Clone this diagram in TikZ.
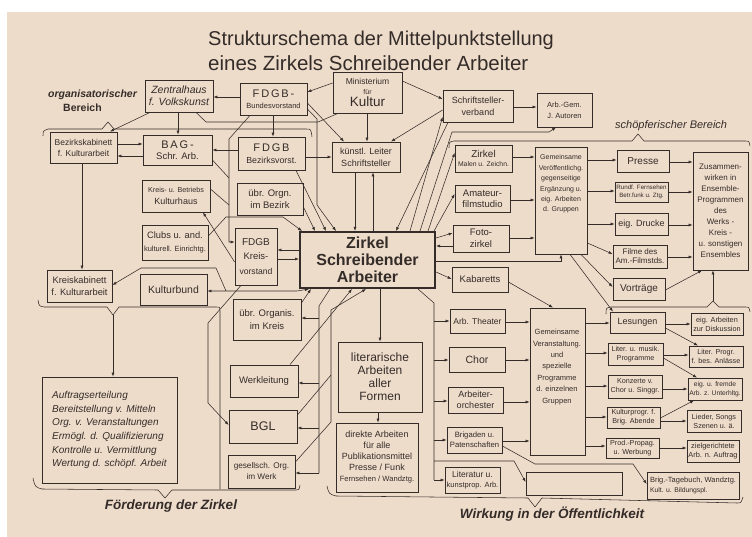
\documentclass[tikz,border=0pt]{standalone}
\usepackage{fontspec}
\setmainfont{Liberation Sans}
\usetikzlibrary{arrows.meta}
\definecolor{paper}{RGB}{238,220,203}
\definecolor{ink}{RGB}{52,44,40}
\newcommand\fs[2]{\fontsize{#1}{#2}\selectfont}
\newcommand\bx[7][]{\node[box,minimum width={(#5-#3)*1pt},minimum height={(#6-#4)*1pt},#1] (#2) at ({(#3+#5)/2},{(#4+#6)/2}) {#7};}
\begin{document}
\begin{tikzpicture}[x=1pt,y=-1pt,
  box/.style={draw=ink,line width=0.8pt,inner sep=1pt,align=center,text=ink,font=\fs{8}{9.5}},
  txt/.style={inner sep=0pt,align=center,text=ink},
  lab/.style={inner sep=0pt,text=ink},
  ln/.style={draw=ink,line width=0.55pt},
  ar/.style={ln,-{Latex[length=4pt,width=3pt]}},
  dar/.style={ln,{Latex[length=4pt,width=3pt]}-{Latex[length=4pt,width=3pt]}}]
\useasboundingbox (0,0) rectangle (752,537);
\fill[white] (0,0) rectangle (752,537);
\fill[paper] (7,12) rectangle (752,537);

% titles and labels
\node[lab,font=\fs{20}{22},anchor=base west] (t1) at (208,46) {Strukturschema der Mittelpunktstellung};
\node[lab,font=\fs{20.5}{22},anchor=base west] (t2) at (208,71) {eines Zirkels Schreibender Arbeiter};
\node[lab,font=\fs{10.5}{12}\bfseries\itshape,anchor=west] (org) at (48,95) {organisatorischer};
\node[lab,font=\fs{10.5}{12}\bfseries,anchor=west] (ber) at (63,108) {Bereich};
\node[lab,font=\fs{11}{12}\itshape,anchor=west] (sch) at (615,126) {schöpferischer Bereich};
\node[lab,font=\fs{13.5}{15}\bfseries\itshape] (foel) at (171,506) {Förderung der Zirkel};
\node[lab,font=\fs{13.5}{15}\bfseries\itshape] (wirl) at (552,514) {Wirkung in der Öffentlichkeit};

% boxes: top
\bx[font=\fs{10.5}{12}\itshape]{zh}{145}{80}{213}{112}{Zentralhaus\\f. Volkskunst}
\bx{fbv}{240}{83}{307}{115}{{\fs{11}{13}F\,D\,G\,B\,-}\\[2pt]{\fs{7.5}{8.5}Bundesvorstand}}
\bx{min}{333}{72}{402}{113}{{\fs{8.5}{10}Ministerium}\\[1pt]{\fs{7}{8}für}\\[1pt]{\fs{13.5}{14}Kultur}}
\bx[font=\fs{9}{12}]{sv}{443}{90}{513}{122}{Schriftsteller-\\verband}
\bx[font=\fs{7.5}{11}]{agj}{537}{93}{592}{127}{Arb.-Gem.\\J. Autoren}
% second row
\bx[font=\fs{8.5}{11}]{bk}{50}{132}{117}{163}{Bezirkskabinett\\f. Kulturarbeit}
\bx{bag}{143}{135}{212}{165}{{\fs{11}{12}B\,A\,G\,-}\\[1pt]{\fs{9.5}{11}Schr. Arb.}}
\bx{fbz}{238}{137}{305}{170}{{\fs{11}{12}F\,D\,G\,B}\\[2pt]{\fs{8.8}{10}Bezirksvorst.}}
\bx[font=\fs{9}{12}]{kl}{332}{142}{400}{172}{künstl. Leiter\\Schriftsteller}
\bx{zmz}{455}{145}{512}{172}{{\fs{10}{11}Zirkel}\\{\fs{6.8}{8}Malen u. Zeichn.}}
\bx{gv}{535}{147}{587}{254}{}
\node[txt,font=\fs{7}{10.4}] (gvt) at (561,184) {Gemeinsame\\Veröffentlichg.\\gegenseitige\\Ergänzung u.\\eig. Arbeiten\\d. Gruppen};
\bx[font=\fs{10}{11}]{pr}{617}{150}{669}{172}{Presse}
\bx[font=\fs{8}{11}]{zus}{693}{152}{748}{270}{Zusammen-\\wirken in\\Ensemble-\\Programmen\\des\\Werks -\\Kreis -\\u. sonstigen\\Ensembles}
\bx[font=\fs{6.2}{8}]{rf}{615}{182}{668}{202}{Rundf. Fernsehen\\Betr.funk u. Ztg.}
\bx[font=\fs{9}{10}]{ed}{615}{213}{668}{235}{eig. Drucke}
\bx[font=\fs{8}{9}]{fi}{613}{245}{667}{268}{Filme des\\Am.-Filmstds.}
\bx[font=\fs{10}{11}]{vo}{613}{278}{665}{300}{Vorträge}
\bx[font=\fs{9.5}{11}]{af}{455}{185}{510}{212}{Amateur-\\filmstudio}
\bx[font=\fs{9.5}{11.5}]{fz}{453}{225}{509}{252}{Foto-\\zirkel}
\bx[font=\fs{9.5}{10}]{kab}{452}{267}{508}{292}{Kabaretts}
% main
\bx[line width=2pt,font=\fs{16}{17}\bfseries]{zsa}{300}{232}{435}{288}{Zirkel\\Schreibender\\Arbeiter}
% left
\bx{kbk}{142}{180}{210}{212}{{\fs{7.2}{9}Kreis- u. Betriebs}\\[2pt]{\fs{9}{10}Kulturhaus}}
\bx{clu}{142}{225}{208}{260}{{\fs{9.3}{11}Clubs u. and.}\\[3pt]{\fs{7.5}{8.5}kulturell. Einrichtg.}}
\bx[font=\fs{9.5}{12}]{uob}{237}{183}{303}{215}{übr. Orgn.\\im Bezirk}
\bx{fkv}{235}{228}{277}{285}{{\fs{10}{11}FDGB}\\[5pt]{\fs{9.5}{10}Kreis-}\\[5pt]{\fs{8.6}{9}vorstand}}
\bx[font=\fs{9.3}{11.5}]{kk}{47}{270}{112}{302}{Kreiskabinett\\f. Kulturarbeit}
\bx[font=\fs{10.5}{11}]{kb}{140}{274}{207}{305}{Kulturbund}
\bx[font=\fs{9.5}{13}]{uok}{233}{299}{301}{340}{übr. Organis.\\im Kreis}
\bx[font=\fs{9.5}{10}]{wl}{230}{365}{298}{397}{Werkleitung}
\bx[font=\fs{12.5}{13}]{bgl}{229}{410}{297}{443}{BGL}
\bx[font=\fs{8.2}{11}]{gow}{228}{455}{295}{488}{gesellsch. Org.\\im Werk}
\bx[font=\fs{12}{13}]{lit}{338}{342}{422}{412}{literarische\\Arbeiten\\aller\\Formen}
\bx[font=\fs{9}{11}]{dir}{336}{423}{418}{492}{direkte Arbeiten\\für alle\\Publikationsmittel\\Presse / Funk\\{\fs{7.6}{11}Fernsehen / Wandztg.}}
\bx[align=left,font=\fs{10}{13.7}\itshape]{foe}{42}{377}{177}{483}{Auftragserteilung\\Bereitstellung v. Mitteln\\Org. v. Veranstaltungen\\Ermögl. d. Qualifizierung\\Kontrolle u. Vermittlung\\Wertung d. schöpf. Arbeit}
% right bottom
\bx[font=\fs{8.5}{9}]{ath}{450}{309}{505}{333}{Arb. Theater}
\bx[font=\fs{10.5}{11}]{chor}{449}{347}{505}{372}{Chor}
\bx[font=\fs{9}{10.5}]{aor}{448}{387}{503}{413}{Arbeiter-\\orchester}
\bx[font=\fs{7.7}{10}]{bri}{447}{427}{502}{453}{Brigaden u.\\Patenschaften}
\bx{lku}{445}{467}{500}{493}{{\fs{8.5}{10}Literatur u.}\\{\fs{7.5}{9}kunstprop. Arb.}}
\bx{gva}{530}{308}{585}{455}{}
\node[txt,font=\fs{7.5}{11.4}] (gvat) at (557,367) {Gemeinsame\\Veranstaltung.\\und\\spezielle\\Programme\\d. einzelnen\\Gruppen};
\bx{leer}{526}{472}{622}{495}{}
\bx[font=\fs{9}{10}]{les}{610}{312}{665}{333}{Lesungen}
\bx[font=\fs{7.2}{9}]{lmp}{608}{343}{663}{365}{Liter. u. musik.\\Programme}
\bx[font=\fs{7.2}{9}]{kon}{608}{375}{662}{398}{Konzerte v.\\Chor u. Singgr.}
\bx[font=\fs{7.2}{9}]{kpb}{607}{407}{660}{428}{Kulturprogr. f.\\Brig. Abende}
\bx[font=\fs{7.2}{9}]{ppw}{606}{438}{659}{458}{Prod.-Propag.\\u. Werbung}
\bx[font=\fs{7.3}{9}]{ead}{691}{313}{743}{335}{eig. Arbeiten\\zur Diskussion}
\bx[font=\fs{7.2}{9}]{lpa}{689}{346}{743}{367}{Liter. Progr.\\f. bes. Anlässe}
\bx[font=\fs{6.7}{9}]{euf}{688}{378}{742}{400}{eig. u. fremde\\Arb. z. Unterhltg.}
\bx[font=\fs{7.2}{9}]{lss}{687}{410}{741}{432}{Lieder, Songs\\Szenen u. ä.}
\bx[font=\fs{7.4}{9}]{zga}{687}{440}{739}{462}{zielgerichtete\\Arb. n. Auftrag}
\bx[align=left]{btb}{647}{472}{739}{499}{{\fs{7.5}{10}Brig.-Tagebuch, Wandztg.}\\[1pt]{\fs{6.8}{8}Kult. u. Bildungspl.}}

% braces
\draw[ln] (43,136) .. controls (43,131) .. (48,129) -- (102,129) -- (108,122) -- (114,129) -- (306,129) .. controls (311,129) .. (312,137);
\draw[ln] (449,148) .. controls (449,142) .. (454,141) -- (632,141) -- (638,134) -- (644,141) -- (745,141) .. controls (749,141) .. (750,146);
\coordinate (vrg) at (713,301);
\draw[ln] (606,314) .. controls (606,308) .. (611,307) -- (707,307) -- (vrg) -- (719,307) -- (745,307) .. controls (749,307) .. (750,312);
\draw[ar] (vrg) -- (zus.south -| vrg);
\coordinate (vkk) at (113,315);
\draw[ln] (38,300) .. controls (39,306) .. (44,307) -- (107,307) -- (vkk) -- (119,307) -- (216,307) .. controls (220,307) .. (220,312) -- (220,489);
\draw[ar] (vkk) -- (foe.north -| vkk);
\draw[ln] (33,478) .. controls (35,487) .. (42,489) -- (158,490) -- (165,498) -- (172,490) -- (296,490) .. controls (299,490) .. (300,485);
\draw[ln] (327,486) .. controls (329,494) .. (336,496) -- (528,498) -- (535,507) -- (542,498) -- (737,503) .. controls (741,503) .. (743,497);

% top connectors
\draw[ar] (fbv.west |- 0,97) -- (zh.east |- 0,97);
\draw[ar] (min.west |- 0,83) -- (fbv.east |- 0,92);
\draw[ar] (min.east |- 0,81) -- (sv.west |- 0,99);
\draw[ar] (min.south -| 367,0) -- (kl.north -| 367,0);
\draw[ar] (fbv.east |- 0,103) -- (kl.north -| 344,0);
\draw[ar] (sv.west |- 0,110) -- (kl.north -| 391,0);
\draw[ar] (sv.east |- 0,107) -- (agj.west |- 0,107);
\draw[ar] (zh.south -| 178,0) -- (bag.north -| 178,0);
\draw[ar] (fbv.south -| 273,0) -- (fbz.north -| 273,0);
\draw[ar] (zh.south -| 150,0) -- (bk.north -| 110,0);
\draw[ln] (zh.south -| 196,0) -- (206,122) -- (318,122) -- (min.south -| 338,0);
\draw[ar] (fbv.south -| 250,0) -- (229,139) -- (229,242) -- (fkv.west |- 0,242);
\draw[ln] (bag.east |- 0,160) -- (229,178);
\draw[ln] (kbk.east |- 0,189) -- (229,205);
\draw[ar] (clu.east |- 0,236) -- (226,217) -- (283,217) -- (zsa.north -| 302,0);
\draw[ar] (fkv.west |- 0,262) -- (kbk.south -| 203,0);
\draw[ar] (uob.east |- 0,207) -- (zsa.north -| 315,0);
\draw[ar] (fbz.south -| 296,0) -- (zsa.north -| 326,0);
\draw[ar] (fbv.east |- 0,109) -- (317,119) -- (317,205) -- (zsa.north -| 336,0);
\draw[ar] (fbz.west |- 0,150) -- (bag.east |- 0,150);
\draw[ar] (fbz.east |- 0,157) -- (kl.west |- 0,157);
\draw[ar] (kl.south -| 355,0) -- (zsa.north -| 355,0);
\draw[ar] (zsa.north -| 373,0) -- (kl.south -| 373,0);
\draw[ar] (bk.east |- 0,144) -- (bag.west |- 0,144);
\draw[ar] (bag.west |- 0,156) -- (bk.east |- 0,156);
\draw[ar] (bk.south -| 82,0) -- (kk.north -| 82,0);

% right top connectors
\draw[ar] (sv.south -| 448,0) -- (zsa.north -| 396,0);
\draw[ar] (zsa.north -| 410,0) -- (sv.west |- 0,117);
\draw[ar] (zsa.north -| 420,0) -- (452,132) -- (549,132) -- (agj.south -| 556,0);
\draw[ar] (zsa.north -| 428,0) -- (zmz.west |- 0,153);
\draw[ar] (zsa.north -| 434,0) -- (af.west |- 0,194);
\draw[ar] (zsa.east |- 0,238) -- (fz.west |- 0,233);
\draw[ar] (fz.west |- 0,246) -- (zsa.east |- 0,246);
\draw[ar] (zsa.east |- 0,261) -- (561,261) -- (gv.south -| 561,0);
\draw[ar] (zsa.east |- 0,272) -- (kab.west |- 0,279);
\draw[ar] (zmz.east |- 0,157) -- (gv.west |- 0,157);
\draw[ar] (af.east |- 0,200) -- (gv.west |- 0,200);
\draw[ar] (fz.east |- 0,238) -- (gv.west |- 0,238);
\draw[ar] (gv.east |- 0,160) -- (pr.west |- 0,160);
\draw[ar] (gv.east |- 0,191) -- (rf.west |- 0,191);
\draw[ar] (gv.east |- 0,224) -- (ed.west |- 0,224);
\draw[ar] (gv.east |- 0,243) -- (fi.west |- 0,254);
\draw[ar] (gv.south -| 581,0) -- (vo.west |- 0,287);
\draw[ar] (gv.south -| 570,0) -- (les.north -| 613,0);
\draw[ar] (pr.east |- 0,162) -- (zus.west |- 0,162);
\draw[ar] (rf.east |- 0,192) -- (zus.west |- 0,192);
\draw[ar] (ed.east |- 0,225) -- (zus.west |- 0,225);
\draw[ar] (fi.east |- 0,257) -- (zus.west |- 0,257);
\draw[ar] (vo.east |- 0,290) -- (zus.south -| 702,0);
\draw[ar] (kab.east |- 0,282) -- (gva.north -| 553,0);

% bottom centre / right
\draw[ar] (zsa.south -| 380,0) -- (lit.north -| 380,0);
\draw[ar] (lit.south -| 378,0) -- (dir.north -| 378,0);
\coordinate (rb1) at (434,303);
\coordinate (rb2) at (434,480);
\draw[ln] (zsa.south -| 418,0) -- (rb1) -- (rb2);
\draw[ar] (rb2) -- (lku.west |- rb2);
\draw[ar] (rb1 |- 0,321) -- (ath.west |- 0,321);
\draw[ar] (rb1 |- 0,360) -- (chor.west |- 0,360);
\draw[ar] (rb1 |- 0,401) -- (aor.west |- 0,401);
\draw[ar] (rb1 |- 0,440) -- (bri.west |- 0,440);
\draw[ar] (rb1 |- 0,461) -- (514,461) -- (leer.west |- 0,482);
\draw[ar] (bri.east |- 0,446) -- (535,464) -- (633,464) -- (btb.west |- 0,484);
\draw[ar] (ath.east |- 0,322) -- (gva.west |- 0,322);
\draw[ar] (chor.east |- 0,360) -- (gva.west |- 0,360);
\draw[ar] (aor.east |- 0,402) -- (gva.west |- 0,402);
\draw[ar] (bri.east |- 0,441) -- (gva.west |- 0,441);
\draw[ar] (gva.east |- 0,323) -- (les.west |- 0,323);
\draw[ar] (gva.east |- 0,353) -- (lmp.west |- 0,353);
\draw[ar] (gva.east |- 0,386) -- (kon.west |- 0,386);
\draw[ar] (gva.east |- 0,417) -- (kpb.west |- 0,417);
\draw[ar] (gva.east |- 0,446) -- (ppw.west |- 0,446);
\draw[ar] (les.east |- 0,324) -- (ead.west |- 0,324);
\draw[ar] (les.east |- 0,328) -- (lpa.north -| 698,0);
\draw[ar] (lmp.east |- 0,355) -- (lpa.west |- 0,355);
\draw[ar] (lmp.east |- 0,358) -- (euf.north -| 697,0);
\draw[ar] (kon.east |- 0,389) -- (euf.west |- 0,389);
\draw[ar] (kpb.east |- 0,418) -- (euf.south -| 694,0);
\draw[ar] (kpb.east |- 0,421) -- (lss.west |- 0,421);
\draw[ar] (ppw.east |- 0,448) -- (zga.west |- 0,448);

% left bottom
\draw[ar] (zsa.west |- 0,250) -- (fkv.east |- 0,250);
\draw[ar] (fkv.east |- 0,259) -- (zsa.west |- 0,259);
\coordinate (kbj) at (226,291);
\draw[dar] (kb.east |- kbj) -- (297,291) -- (zsa.south -| 309,0);
\draw[ar] (kbj) -- (216,268) -- (141,268) -- (kk.east |- 0,285);
\draw[ar] (fkv.south -| 241,0) -- (208,323) -- (208,403) -- (bgl.west |- 0,425);
\coordinate (lb1) at (319,306);
\coordinate (lb2) at (319,473);
\draw[ln] (zsa.south -| 330,0) -- (lb1) -- (lb2);
\draw[ar] (lb1 |- 0,318) -- (uok.east |- 0,318);
\draw[ar] (lb1 |- 0,383) -- (wl.east |- 0,383);
\draw[ar] (lb1 |- 0,428) -- (bgl.east |- 0,428);
\draw[ar] (lb2) -- (gow.east |- lb2);
\draw[ar] (uok.east |- 0,303) -- (zsa.south -| 311,0);
\draw[ar] (wl.north -| 290,0) -- (zsa.south -| 352,0);
\draw[ar] (bgl.east |- 0,415) -- (331,375) -- (331,310) -- (zsa.south -| 366,0);
\draw[ln] (gow.east |- 0,462) -- (331,422) -- (331,375);
\end{tikzpicture}
\end{document}
